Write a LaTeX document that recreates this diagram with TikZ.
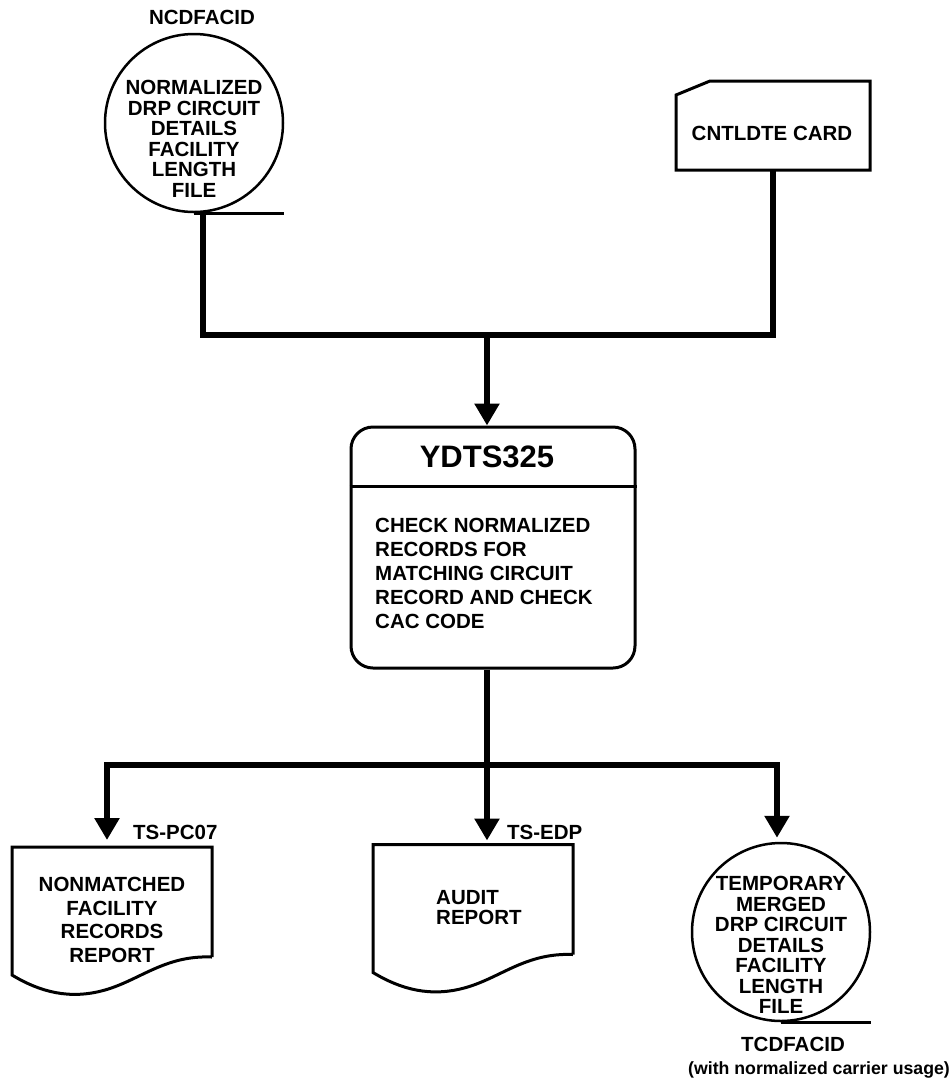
\documentclass[tikz,border=0pt]{standalone}
\usepackage{fontspec}
\setmainfont{Liberation Sans}
\usetikzlibrary{arrows.meta}

% Outline of a printed report: flat top, wavy torn bottom edge
\newcommand{\drawreport}[1]{%
  \draw[outline] (#1.south east) -- (#1.north east) -- (#1.north west) -- ++(0,128)
    .. controls +(28,17) and +(-35,10) .. ++(93,15)
    .. controls +(35,-10) and +(-47,-2) .. (#1.south east);
}

\begin{document}
\begin{tikzpicture}[x=1pt,y=-1pt,
  flow/.style={line width=5.5pt},
  flowarrow/.style={flow,-{Triangle[width=24pt,length=22pt]}},
  outline/.style={line width=3pt},
  tape/.style={circle,draw,line width=2.5pt,minimum size=178pt,inner sep=0pt},
  txt/.style={font=\fontsize{20.5}{24}\selectfont\bfseries,inner sep=0pt},
  txttight/.style={font=\fontsize{20.5}{20.5}\selectfont\bfseries,inner sep=0pt},
  shapebox/.style={inner sep=0pt,outer sep=0pt},
]
\useasboundingbox (0,0) rectangle (951,1088);

% ---- inputs ----
\node[tape] (src) at (194,123) {};
\draw[outline] (src.south) -- (src.south -| src.east);
\node[txttight,align=center] (srcText) at (194,139)
  {NORMALIZED\\DRP CIRCUIT\\DETAILS\\FACILITY\\LENGTH\\FILE};
\node[txt] (srcName) at (202,17) {NCDFACID};

\node[shapebox,minimum width=194pt,minimum height=89pt] (card) at (773,125.5) {};
\draw[outline] (card.north west) ++(0,14) -- ++(34,-14) -- (card.north east)
  -- (card.south east) -- (card.south west) -- cycle;
\node[txt] (cardText) at (772,133) {CNTLDTE CARD};

% ---- process ----
\node[draw,rounded corners=22pt,line width=3pt,minimum width=284pt,
      minimum height=241pt,inner sep=0pt] (proc) at (493,547.5) {};
\coordinate (divider) at (493,486);
\draw[outline] (proc.west |- divider) -- (proc.east |- divider);
\node[font=\fontsize{31}{31}\selectfont\bfseries,inner sep=0pt] (procTitle) at (487,457) {YDTS325};
\node[txt,align=left,anchor=west] (procBody) at (375,573)
  {CHECK NORMALIZED\\RECORDS FOR\\MATCHING CIRCUIT\\RECORD AND CHECK\\CAC CODE};

% ---- outputs ----
\node[shapebox,minimum width=200pt,minimum height=110pt] (rep1) at (112,902) {};
\drawreport{rep1}
\node[font=\fontsize{20.5}{23.5}\selectfont\bfseries,inner sep=0pt,align=center] (rep1Text) at (112,920)
  {NONMATCHED\\FACILITY\\RECORDS\\REPORT};
\node[txt,anchor=west] (rep1Name) at (133,832) {TS-PC07};

\node[shapebox,minimum width=200pt,minimum height=110pt] (rep2) at (473,899.5) {};
\drawreport{rep2}
\node[txttight,align=left,anchor=west] (rep2Text) at (436,907.5) {AUDIT\\REPORT};
\node[txt,anchor=west] (rep2Name) at (507,832) {TS-EDP};

\node[tape] (out) at (781,932) {};
\draw[outline] (out.south) -- (out.south -| out.east);
\node[txttight,align=center] (outText) at (781,945)
  {TEMPORARY\\MERGED\\DRP CIRCUIT\\DETAILS\\FACILITY\\LENGTH\\FILE};
\node[txt] (outName) at (793,1044) {TCDFACID};
\node[font=\fontsize{17.7}{17.7}\selectfont\bfseries,inner sep=0pt] (outNote) at (819,1070)
  {(with normalized carrier usage)};

% ---- connectors ----
\coordinate (srcTap) at ([xshift=9pt]src.south);
\coordinate (merge) at (487,335);
\draw[flow] (srcTap) |- (card.south |- merge) -- (card.south);
\draw[flowarrow] (merge) -- (merge |- proc.north);

\coordinate (split) at (487,765);
\draw[flow] (merge |- proc.south) -- (split);
\draw[flowarrow,shorten >=7pt] (split) -| ([xshift=-5pt]rep1.north);
\draw[flowarrow,shorten >=4pt] (split) -- (split |- rep2.north);
\draw[flowarrow,shorten >=4pt] (split) -| ([xshift=-4pt]out.north);
\end{tikzpicture}
\end{document}
